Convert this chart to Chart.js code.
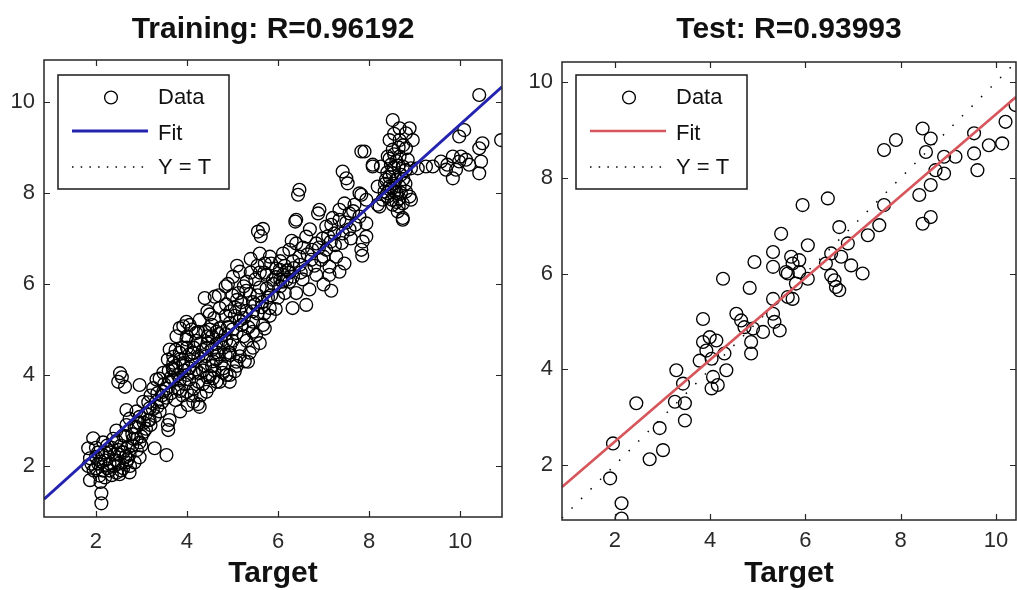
<!DOCTYPE html>
<html><head><meta charset="utf-8">
<script src="https://cdn.jsdelivr.net/npm/chart.js@4.4.1/dist/chart.umd.min.js"></script>
<style>
html,body{margin:0;padding:0;background:#fff;}
#wrap{position:relative;width:1017px;height:590px;overflow:hidden;background:#fff;}
#c1{position:absolute;left:0;top:0;}
#c2{position:absolute;left:510px;top:0;}
</style></head><body>
<div id="wrap"><canvas id="c1" width="510" height="590"></canvas><canvas id="c2" width="507" height="590"></canvas></div>
<script>
// ---------- data ----------
const tickValues = [2, 4, 6, 8, 10];
const legendLabels = ['Data', 'Fit', 'Y = T'];
const trainTitle = 'Training: R=0.96192';
const testTitle = 'Test: R=0.93993';
const axisTitle = 'Target';

// [Target, Output]
const trainPoints = [
 [1.94,2.61],[1.83,2.39],[2.05,2.30],[1.87,2.17],[1.83,2.00],[1.95,1.90],[1.87,1.69],[2.08,1.79],[2.30,1.90],[2.52,1.82],
 [2.74,1.86],[2.12,1.40],[2.12,1.18],[2.20,2.12],[2.44,2.12],[2.67,2.08],[2.85,2.08],[2.96,2.19],[2.30,2.30],[2.52,2.25],
 [2.74,2.25],[2.16,2.52],[2.38,2.60],[2.60,2.67],[2.82,2.60],[2.96,2.52],[2.45,2.78],[2.67,2.90],[2.89,2.86],[3.10,2.82],
 [2.74,3.04],[2.96,3.08],[3.18,3.27],[3.40,3.20],[3.33,3.41],[3.04,3.41],[3.48,3.63],[3.26,3.71],[3.40,3.92],[3.62,3.85],
 [3.70,4.11],[3.92,4.26],[4.14,4.48],[4.28,4.04],[4.00,3.63],[4.14,3.41],[4.02,3.34],[4.24,3.36],[4.28,3.30],[3.85,3.20],
 [4.43,3.63],[4.65,3.85],[4.87,4.00],[5.05,4.08],[5.27,4.30],[5.16,4.59],[4.94,4.44],[4.57,4.30],[4.43,4.59],
 [2.53,4.04],[2.49,3.85],[2.64,3.74],[2.57,3.95],[2.96,3.78],[2.67,3.23],[2.89,3.20],[3.18,3.01],[3.62,3.01],[3.59,2.79],
 [3.29,2.39],[3.55,2.24],[3.58,2.90],
 [2.05,2.05],[2.25,1.95],[2.40,2.00],[2.60,1.95],[2.15,2.25],[2.35,2.40],[2.55,2.45],[2.70,2.40],[2.90,2.35],[2.00,2.40],
 [2.20,1.75],[2.45,1.85],[2.65,2.20],[2.80,2.70],[3.00,2.65],[3.05,2.95],[3.20,2.90],[3.30,3.10],[3.10,3.15],[3.45,3.40],
 [3.55,3.50],[3.20,3.55],[3.35,3.60],[3.50,3.80],[3.65,3.60],[3.75,3.45],[3.80,3.70],[3.70,3.90],[3.60,4.10],
 [3.84,5.03],[3.99,5.17],[3.77,4.85],[3.62,4.56],[3.58,4.34],[3.69,4.15],[3.84,3.89],[4.57,3.93],[4.94,4.00],[5.09,4.29],
 [5.34,4.29],[5.52,4.88],[5.71,5.02],[5.82,5.47],[6.32,5.47],[6.62,5.54],[5.16,6.27],[5.01,6.16],[4.90,6.00],[5.31,6.05],
 [5.13,5.80],[5.38,5.78],[5.60,5.92],[5.78,5.70],[5.64,5.49],[5.82,5.30],[5.67,5.10],[5.45,5.17],[5.31,5.41],[5.05,5.49],
 [4.86,5.55],[4.61,5.72],[4.39,5.69],[4.72,5.47],[4.50,5.33],[4.28,5.21],[4.06,5.10],[3.92,5.07],[4.20,4.92],[3.99,4.78],
 [4.46,4.85],[4.72,5.03],[4.94,5.14],[5.16,5.20],[5.09,4.92],[4.86,4.75],[4.64,4.68],[5.31,4.75],[5.38,4.49],[5.16,4.41],
 [4.94,4.49],[4.64,4.34],[4.42,4.41],[4.13,4.49],[3.84,4.49],[3.70,4.27],[3.92,4.20],[4.20,4.12],[4.50,3.98],[4.79,4.05],
 [5.09,4.20],[4.94,3.85],[4.72,3.85],[3.48,4.05],[3.33,3.90],
 [4.00,4.00],[4.10,4.30],[4.30,4.70],[4.40,4.20],[4.55,4.55],[4.70,4.90],[4.80,4.60],[4.00,4.60],[4.25,4.95],[4.55,5.10],
 [4.85,5.30],[5.00,5.00],[5.20,5.60],[5.45,5.60],[5.55,5.35],[5.00,4.75],[4.35,3.80],[4.60,4.10],[4.15,3.70],[3.90,3.55],
 [3.80,4.00],[4.05,3.90],[4.70,4.45],[4.45,5.40],[5.25,5.95],[5.50,6.10],[5.70,6.25],[5.90,6.00],[6.00,5.70],[5.95,5.45],
 [4.70,5.75],[4.85,5.95],[5.10,6.40],[5.40,6.55],[5.55,6.40],[5.45,4.60],[5.60,4.70],
 [3.55,3.70],[3.65,3.95],[3.75,4.20],[3.85,4.35],[3.95,4.10],[4.05,4.45],[4.15,4.60],[4.25,4.40],[4.35,4.55],[4.45,4.70],
 [4.55,4.85],[4.65,4.95],[4.75,4.75],[4.85,4.90],[4.95,4.65],[4.05,4.15],[4.15,4.05],[4.25,3.85],[4.35,4.10],[4.45,3.95],
 [4.55,4.20],[4.65,4.50],[4.75,4.25],[4.85,4.45],[3.95,3.80],[3.85,3.65],[4.10,3.55],[4.30,3.55],[4.50,3.75],[4.20,4.75],
 [4.40,4.95],[4.60,5.25],[4.00,4.85],[4.10,5.00],[3.90,4.60],[3.75,4.55],[3.70,4.40],[4.50,5.00],[4.90,5.05],[4.80,4.15],
 [5.05,5.30],[5.15,5.45],[5.25,5.25],[5.35,5.05],[5.45,5.40],[5.55,5.75],[5.65,5.60],[5.75,5.90],[5.85,5.75],[5.95,6.15],
 [6.05,5.95],[6.15,6.40],[6.25,6.25],[5.20,5.10],[5.10,5.65],[5.30,5.85],[5.50,5.55],[5.70,5.35],[5.85,6.45],[6.05,6.50],
 [5.40,6.25],[5.60,6.25],[5.00,5.75],[4.95,5.40],[5.25,4.85],[5.45,4.95],[6.15,5.80],[6.10,6.05],
 [1.90,2.05],[2.00,1.95],[2.10,2.10],[2.20,2.30],[2.30,2.05],[2.40,2.25],[2.50,2.05],[2.60,2.30],[2.70,2.15],[2.80,2.45],
 [2.90,2.60],[3.00,2.45],[2.15,1.90],[2.35,1.80],[2.55,1.90],[2.75,2.00],[2.00,2.20],[2.25,2.45],[2.45,2.55],[2.65,2.65],
 [2.85,2.85],[3.05,2.75],[3.15,3.00],[3.25,3.25],[3.35,3.30],[3.45,3.55],[3.15,3.40],[2.95,2.95],[2.10,1.65],[2.50,2.35],
 [6.40,7.41],[5.56,7.15],[5.62,7.05],[6.88,7.55],[7.17,7.30],[6.62,7.04],[6.84,6.89],[6.40,6.89],[6.25,6.75],[6.11,6.67],
 [6.47,6.60],[6.33,6.50],[5.60,6.67],[5.82,6.60],[5.71,6.45],[5.96,6.34],[6.11,6.20],[6.25,6.05],[6.54,6.10],[6.84,6.20],
 [7.13,6.20],[7.17,5.85],[7.00,5.99],[6.69,5.88],[6.40,5.80],
 [6.05,6.10],[6.20,6.30],[6.35,6.35],[6.50,6.25],[6.65,6.65],[6.75,6.75],[6.90,6.80],[7.00,6.60],[6.80,6.40],[6.55,6.80],
 [7.10,7.05],[7.25,6.85],[7.40,6.90],[7.50,7.35],[7.60,7.00],[7.70,7.30],[6.70,7.20],[6.30,6.95],[7.20,7.45],[7.65,7.60],
 [7.42,8.47],[7.50,8.32],[7.53,8.21],[7.79,7.99],[7.94,7.85],[7.68,7.74],[7.46,7.77],[7.35,7.63],[7.57,7.55],[7.79,7.48],
 [7.94,7.33],[7.94,7.04],[7.86,6.93],[7.83,6.75],[7.85,6.62],[7.35,7.41],[7.24,7.11],[7.42,7.11],[7.57,7.20],[7.06,7.26],
 [6.91,7.63],[6.47,8.07],[6.44,7.96],[6.38,7.37],[6.98,7.00],[7.16,6.93],[7.06,6.75],[7.28,6.60],[7.46,6.45],[7.35,6.27],
 [7.13,6.38],[6.95,6.53],[6.73,6.53],[6.62,6.31],[6.48,6.42],[6.33,6.16],[6.19,6.09],[6.04,6.31],[5.89,6.09],[5.75,6.20],
 [5.67,7.21],[7.83,8.91],[8.08,8.62],[7.83,7.96],[8.19,7.74],[8.74,7.45],[9.07,8.54],
 [8.52,9.60],[8.67,9.42],[8.89,9.42],[8.81,9.31],[8.45,9.16],[8.67,9.16],[8.96,9.16],[8.81,8.98],[8.52,8.95],[8.41,8.80],
 [8.67,8.80],[8.85,8.73],[8.48,8.62],[8.74,8.58],[8.92,8.54],[7.90,8.91],[8.08,8.58],[8.26,8.58],[8.52,8.43],[8.37,8.29],
 [8.59,8.29],[8.45,8.14],[8.67,8.14],[8.34,8.03],[8.56,8.03],[8.81,8.03],[8.41,7.92],[8.67,7.88],[8.89,7.92],[8.23,7.70],
 [8.52,7.74],[8.74,7.77],[8.19,8.14],[8.74,7.41],[8.63,7.59],[8.92,7.85],
 [8.55,8.55],[8.60,8.00],[8.50,7.85],[8.70,8.40],[8.40,8.45],[8.60,8.70],[8.75,9.05],[8.55,9.30],
 [8.45,8.35],[8.55,8.20],[8.65,8.60],[8.75,8.30],[8.50,8.10],[8.60,7.80],[8.70,8.00],[8.80,8.20],[8.40,8.00],[8.35,8.20],
 [8.45,8.75],[8.65,9.00],[8.55,8.85],[8.80,8.50],[8.30,7.85],[8.65,7.70],
 [10.42,10.15],[10.90,9.16],[10.09,9.38],[9.98,9.24],[10.49,9.09],[10.42,8.98],[10.46,8.69],[10.42,8.43],[9.40,8.58],[9.58,8.69],
 [9.69,8.51],[9.84,8.80],[9.98,8.69],[9.91,8.51],[10.13,8.73],[9.84,8.32],[9.25,8.58],[9.72,8.62],[10.20,8.62],[10.02,8.80]
];

const testPoints = [
 [4.27,5.89],[4.83,5.70],[5.32,5.47],[5.32,5.16],[5.35,4.99],[5.46,4.81],[5.63,6.00],[5.63,5.51],[4.55,5.16],[4.65,5.02],
 [4.72,4.88],[4.90,4.85],[4.86,4.57],[4.86,4.33],[5.11,4.78],[3.85,5.05],[3.99,4.67],[3.85,4.57],[4.13,4.60],[3.92,4.39],
 [3.78,4.18],[4.03,4.22],[4.30,4.33],[4.34,3.98],[4.06,3.84],[4.16,3.67],[4.03,3.60],[3.29,3.98],[3.43,3.70],[3.26,3.32],
 [3.47,3.29],[3.47,2.93],[2.45,3.29],[2.94,2.77],[3.01,2.31],[2.73,2.12],[1.96,2.45],[1.90,1.72],[2.14,1.20],[2.14,0.88],
 [8.46,9.03],[8.63,8.82],[8.53,8.54],[7.65,8.58],[7.90,8.79],[8.91,8.44],[9.15,8.44],[9.54,8.93],[9.85,8.68],[10.13,8.72],
 [10.20,9.17],[10.41,9.52],[9.54,8.51],[9.61,8.16],[8.73,8.16],[8.91,8.09],[8.63,7.85],[8.39,7.64],[8.63,7.18],[8.46,7.04],
 [7.65,7.43],[7.55,7.01],[7.31,6.80],[6.47,7.57],[5.94,7.43],[5.49,6.83],[5.32,6.45],[5.32,6.14],[5.70,6.35],[5.73,6.21],
 [5.87,6.28],[5.87,6.03],[6.05,6.59],[6.05,5.89],[5.80,5.79],[5.73,5.47],[6.71,6.97],[6.89,6.63],[6.54,6.42],[6.75,6.35],
 [6.43,6.21],[6.96,6.17],[7.20,6.00],[6.54,5.96],[6.61,5.86],[6.64,5.72],[6.71,5.65],[4.93,6.24],[5.59,6.03]
];

// fit lines and identity line, read at the axis limits
const trainFit = [[0.86, 1.27], [10.92, 10.33]];
const trainIdentity = [[0.86, 0.86], [10.92, 10.92]];
const testFit = [[0.89, 1.54], [10.42, 9.69]];
const testIdentity = [[0.89, 0.89], [10.42, 10.42]];

// ---------- drawing ----------
const FONT = '"Liberation Sans", Arial, Helvetica, sans-serif';
Chart.defaults.font.family = FONT;
const toXY = arr => arr.map(p => ({x: p[0], y: p[1]}));

const framePlugin = {
  id: 'frameTicks',
  afterDatasetsDraw(chart) {
    const {ctx, chartArea: a, scales: {x, y}} = chart;
    ctx.save();
    ctx.strokeStyle = '#262626';
    ctx.lineWidth = 1.5;
    ctx.strokeRect(a.left, a.top, a.right - a.left, a.bottom - a.top);
    const L = 6;
    ctx.beginPath();
    x.ticks.forEach(t => {
      const p = Math.round(x.getPixelForValue(t.value)) + 0.5;
      ctx.moveTo(p, a.bottom); ctx.lineTo(p, a.bottom - L);
      ctx.moveTo(p, a.top); ctx.lineTo(p, a.top + L);
    });
    y.ticks.forEach(t => {
      const p = Math.round(y.getPixelForValue(t.value)) + 0.5;
      ctx.moveTo(a.left, p); ctx.lineTo(a.left + L, p);
      ctx.moveTo(a.right, p); ctx.lineTo(a.right - L, p);
    });
    ctx.lineWidth = 1.2;
    ctx.stroke();
    ctx.restore();
  }
};

const legendPlugin = {
  id: 'boxLegend',
  afterDraw(chart, args, o) {
    const {ctx, chartArea: a} = chart;
    const bx = a.left + o.dx, by = a.top + o.dy, bw = 171, bh = 114;
    ctx.save();
    ctx.fillStyle = '#fff';
    ctx.fillRect(bx, by, bw, bh);
    ctx.strokeStyle = '#1a1a1a';
    ctx.lineWidth = 1.5;
    ctx.strokeRect(bx, by, bw, bh);
    const lineY = [22.5, 56, 92];
    const textY = [22.5, 59, 92.5];
    const x0 = bx + 14, x1 = bx + 90;
    chart.data.datasets.forEach((d, i) => {
      const y = by + lineY[i];
      ctx.save();
      if (i === 0) {
        ctx.beginPath();
        ctx.strokeStyle = d.borderColor;
        ctx.lineWidth = d.borderWidth;
        ctx.arc(bx + 53, y, d.pointRadius, 0, Math.PI * 2);
        ctx.stroke();
      } else {
        ctx.beginPath();
        ctx.strokeStyle = d.borderColor;
        ctx.lineWidth = d.borderWidth;
        if (d.borderDash) ctx.setLineDash(o.dash);
        ctx.moveTo(x0, y); ctx.lineTo(x1, y);
        ctx.stroke();
      }
      ctx.restore();
      ctx.font = '22px ' + FONT;
      ctx.fillStyle = '#111';
      ctx.textAlign = 'left';
      ctx.textBaseline = 'middle';
      ctx.fillText(d.label, bx + 100, by + textY[i]);
    });
    ctx.restore();
  }
};

function makeChart(id, cfg) {
  return new Chart(document.getElementById(id), {
    type: 'scatter',
    data: {
      datasets: [
        {label: legendLabels[0], data: toXY(cfg.points), pointStyle: 'circle', pointRadius: 6.4,
         borderColor: '#000', backgroundColor: 'rgba(0,0,0,0)', borderWidth: 1.35, order: 3},
        {label: legendLabels[1], data: toXY(cfg.fit), showLine: true, pointRadius: 0,
         borderColor: cfg.fitColor, borderWidth: cfg.fitWidth, order: 1},
        {label: legendLabels[2], data: toXY(cfg.identity), showLine: true, pointRadius: 0,
         borderColor: '#000', borderWidth: 1.5, borderDash: [1.5, 12], order: 2, hidden: cfg.hideIdentity}
      ]
    },
    options: {
      responsive: false,
      animation: false,
      events: [],
      layout: {padding: {left: 0, right: cfg.padRight, top: 0, bottom: 0}, autoPadding: false},
      plugins: {
        legend: {display: false},
        tooltip: {enabled: false},
        title: {display: true, text: cfg.title, fullSize: false, color: '#111',
                font: {size: 30, weight: 'bold', lineHeight: 1.2}, padding: cfg.titlePad},
        boxLegend: {dx: 14, dy: cfg.legendDy, dash: [1.5, 7.2]}
      },
      scales: {
        x: {
          type: 'linear', min: cfg.xRange[0], max: cfg.xRange[1],
          grid: {display: false, drawTicks: false}, border: {display: false},
          afterBuildTicks: s => { s.ticks = tickValues.map(v => ({value: v})); },
          afterFit: s => { s.height = cfg.xAxisH; s.paddingLeft = 0; s.paddingRight = 0; },
          ticks: {color: '#2a2a2a', font: {size: 22, lineHeight: 1}, padding: cfg.xTickPad, maxRotation: 0, autoSkip: false},
          title: {display: true, text: axisTitle, color: '#111',
                  font: {size: 30, weight: 'bold', lineHeight: 1}, padding: {top: 0, bottom: 1}}
        },
        y: {
          type: 'linear', min: cfg.yRange[0], max: cfg.yRange[1],
          grid: {display: false, drawTicks: false}, border: {display: false},
          afterBuildTicks: s => { s.ticks = tickValues.map(v => ({value: v})); },
          afterFit: s => { s.width = cfg.yAxisW; s.paddingTop = 0; s.paddingBottom = 0; },
          ticks: {color: '#2a2a2a', font: {size: 22, lineHeight: 1}, padding: 9, autoSkip: false}
        }
      }
    },
    plugins: [framePlugin, legendPlugin]
  });
}

makeChart('c1', {
  points: trainPoints, fit: trainFit, identity: trainIdentity, hideIdentity: true,
  fitColor: '#2323b0', fitWidth: 3, title: trainTitle,
  xRange: [0.86, 10.92], yRange: [0.88, 10.92],
  padRight: 8, titlePad: {top: 12, bottom: 12}, xAxisH: 73, yAxisW: 44, xTickPad: 13.5, legendDy: 15
});
makeChart('c2', {
  points: testPoints, fit: testFit, identity: testIdentity, hideIdentity: false,
  fitColor: 'rgb(214,86,92)', fitWidth: 2.6, title: testTitle,
  xRange: [0.89, 10.42], yRange: [0.85, 10.42],
  padRight: 1, titlePad: {top: 12, bottom: 14}, xAxisH: 70, yAxisW: 52, xTickPad: 10, legendDy: 13
});
</script>
</body></html>
